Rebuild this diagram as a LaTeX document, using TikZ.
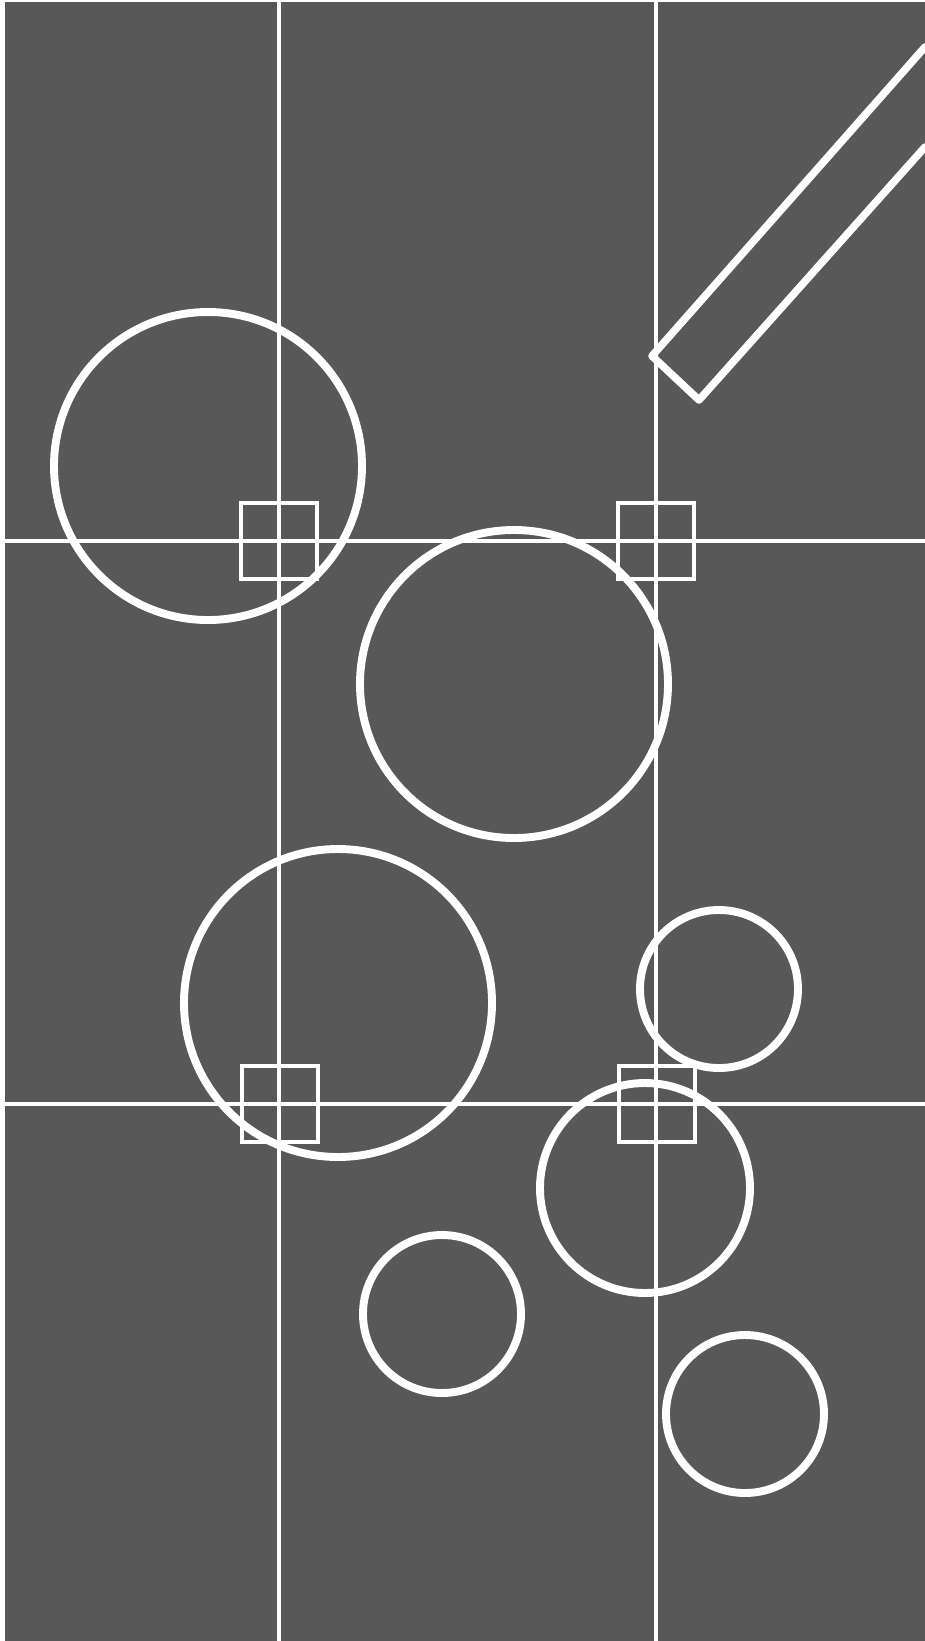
\documentclass[tikz,border=0pt]{standalone}
\usepackage{tikz}

\definecolor{bggray}{RGB}{88,88,88}

\tikzset{
    gridline/.style={white,line width=1.9pt},
    ring/.style={white,line width=4.5pt},
    markbox/.style={white,line width=1.9pt},
    barline/.style={white,line width=4.3pt,line join=round,line cap=round}
}

\begin{document}
\begin{tikzpicture}[x=0.02cm,y=-0.02cm]

%==================== 背景 ====================
\useasboundingbox (0,0) rectangle (925,1641);
\fill[white] (0,0) rectangle (925,1641);
\fill[bggray] (5,2) rectangle (925,1641);

%==================== 三分线 ====================
\foreach \x in {279,656}
{
    \draw[gridline] (\x,2) -- (\x,1641);
}
\foreach \y in {541,1104}
{
    \draw[gridline] (5,\y) -- (925,\y);
}

% 交点处的小方框
\foreach \x/\y in {279/541,656/541,280/1104,657/1104}
{
    \draw[markbox] (\x-38,\y-38) rectangle (\x+38,\y+38);
}

%==================== 圆 ====================
\foreach \x/\y/\r in {
208/466/154,514/684/154,338/1003/154,
719/989/79,645/1188/105,442/1314/79,745/1414/79
}{
    \draw[ring] (\x,\y) circle (\r);
}

%==================== 右上角斜条 ====================
\draw[barline] (925,47) -- (652,356) -- (699,400) -- (925,147);

\end{tikzpicture}
\end{document}
